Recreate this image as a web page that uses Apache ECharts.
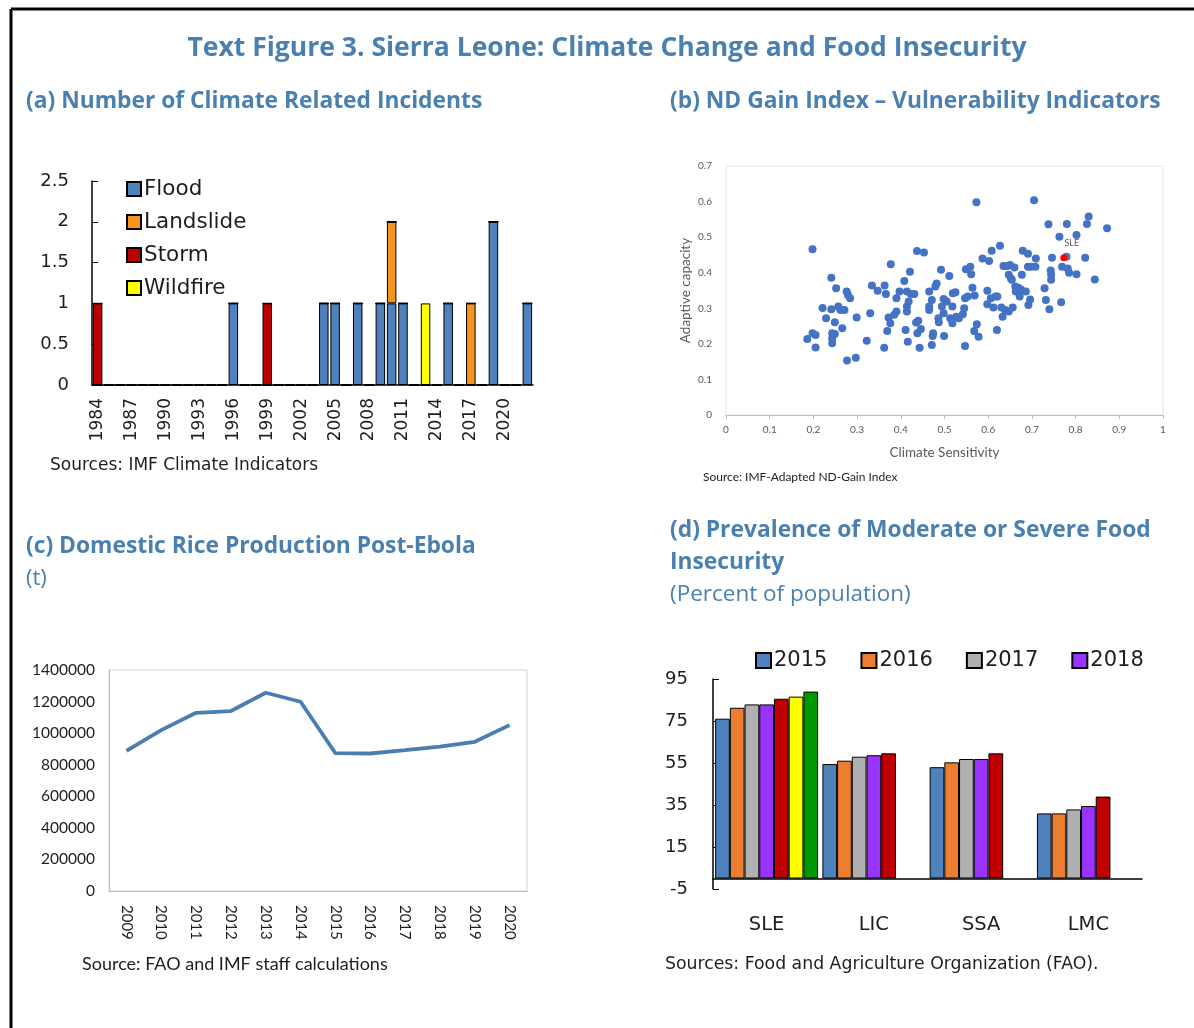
<!DOCTYPE html>
<html>
<head>
<meta charset="utf-8">
<script src="https://cdn.jsdelivr.net/npm/echarts@6/dist/echarts.min.js"></script>
<style>
  html, body { margin: 0; padding: 0; background: #fff; }
  #chart { width: 1194px; height: 1028px; }
</style>
</head>
<body>
<div id="chart"></div>
<script>
// (a) climate related incidents, one entry per year 1984..2022
const incidentYears = [];
for (let y = 1984; y <= 2022; y++) incidentYears.push(String(y));
const floodByYear = { 1996: 1, 2004: 1, 2005: 1, 2007: 1, 2009: 1, 2010: 1, 2011: 1, 2015: 1, 2019: 2, 2022: 1 };
const landslideByYear = { 2010: 1, 2017: 1 };
const stormByYear = { 1984: 1, 1999: 1 };
const wildfireByYear = { 2013: 1 };

// (b) ND-Gain: [climate sensitivity, adaptive capacity]
const ndGainPoints = [
  [0.186,0.214],[0.198,0.466],[0.198,0.230],[0.205,0.225],[0.205,0.190],[0.221,0.301],[0.229,0.272],
  [0.241,0.386],[0.241,0.297],[0.243,0.230],[0.243,0.215],[0.243,0.202],[0.249,0.261],[0.249,0.228],
  [0.252,0.356],[0.257,0.305],[0.262,0.295],[0.266,0.244],[0.271,0.295],[0.276,0.347],[0.279,0.337],
  [0.284,0.328],[0.277,0.153],[0.297,0.161],[0.299,0.274],[0.322,0.209],[0.330,0.286],[0.334,0.364],
  [0.347,0.349],[0.362,0.189],[0.363,0.364],[0.366,0.340],[0.369,0.236],[0.372,0.274],[0.376,0.258],
  [0.377,0.424],[0.385,0.282],[0.390,0.291],[0.390,0.328],[0.397,0.347],[0.408,0.377],[0.411,0.239],
  [0.414,0.305],[0.414,0.291],[0.416,0.206],[0.418,0.319],[0.414,0.347],[0.421,0.403],[0.423,0.340],
  [0.431,0.340],[0.435,0.260],[0.437,0.461],[0.438,0.230],[0.440,0.265],[0.443,0.189],[0.446,0.242],
  [0.453,0.457],[0.465,0.347],[0.465,0.305],[0.465,0.295],[0.471,0.197],[0.473,0.222],[0.474,0.230],
  [0.471,0.323],[0.479,0.361],[0.482,0.370],[0.486,0.272],[0.487,0.261],[0.492,0.408],[0.494,0.305],
  [0.498,0.326],[0.498,0.286],[0.499,0.222],[0.505,0.319],[0.511,0.391],[0.513,0.272],[0.518,0.258],
  [0.518,0.305],[0.519,0.342],[0.525,0.345],[0.527,0.276],[0.533,0.272],[0.542,0.283],[0.545,0.300],
  [0.547,0.194],[0.547,0.328],[0.549,0.410],[0.553,0.333],[0.559,0.417],[0.561,0.396],[0.564,0.358],
  [0.568,0.236],[0.569,0.336],[0.573,0.598],[0.574,0.255],[0.578,0.220],[0.587,0.440],[0.598,0.311],
  [0.598,0.349],[0.602,0.433],[0.606,0.328],[0.608,0.462],[0.612,0.302],[0.617,0.333],[0.620,0.239],
  [0.621,0.333],[0.627,0.476],[0.630,0.302],[0.633,0.276],[0.635,0.419],[0.639,0.295],[0.644,0.419],
  [0.647,0.291],[0.647,0.394],[0.650,0.422],[0.652,0.384],[0.654,0.380],[0.656,0.302],[0.660,0.415],
  [0.662,0.361],[0.663,0.347],[0.669,0.358],[0.672,0.333],[0.675,0.353],[0.677,0.394],[0.679,0.462],
  [0.686,0.347],[0.692,0.309],[0.691,0.453],[0.691,0.417],[0.696,0.325],[0.698,0.417],[0.705,0.604],
  [0.708,0.417],[0.709,0.440],[0.729,0.356],[0.732,0.323],[0.738,0.536],[0.740,0.297],[0.743,0.406],
  [0.744,0.380],[0.744,0.394],[0.746,0.442],[0.763,0.501],[0.767,0.317],[0.769,0.417],[0.779,0.445],
  [0.780,0.537],[0.782,0.412],[0.785,0.400],[0.802,0.506],[0.802,0.396],[0.822,0.442],[0.826,0.537],
  [0.830,0.558],[0.844,0.381],[0.872,0.525]
];
const slePoint = [0.773, 0.442];

// (c) domestic rice production (t)
const riceYears = ['2009','2010','2011','2012','2013','2014','2015','2016','2017','2018','2019','2020'];
const riceTonnes = [888000, 1019000, 1129000, 1140000, 1256000, 1199000, 873000, 871000, 892000, 914000, 945000, 1051000];

// (d) food insecurity, percent of population
const fiGroups = ['SLE', 'LIC', 'SSA', 'LMC'];
const fiYears = ['2015', '2016', '2017', '2018', '2019', '2020', '2021'];
const fi2015 = [76.1, 54.5, 53.0, 31.0];
const fi2016 = [81.3, 56.1, 55.3, 31.0];
const fi2017 = [82.9, 58.0, 56.9, 32.9];
const fi2018 = [82.9, 58.7, 56.9, 34.5];
const fi2019 = [85.6, 59.6, 59.6, 39.0];
const fi2020 = [86.6, null, null, null];
const fi2021 = [89.0, null, null, null];

const BLUE = '#4a80b0';
const TXT = '#1e1e1e';
const WIDE = 'DejaVu Sans';

function perYear(map) {
  return incidentYears.map(y => (map[y] ? map[y] : 0));
}

const chart = echarts.init(document.getElementById('chart'));

const incidentSeries = [
  ['Flood', floodByYear, '#4f81bd'],
  ['Landslide', landslideByYear, '#f7941d'],
  ['Storm', stormByYear, '#c00000'],
  ['Wildfire', wildfireByYear, '#ffff00']
].map(([name, map, color]) => ({
  name: name,
  type: 'bar',
  stack: 'incidents',
  xAxisIndex: 0,
  yAxisIndex: 0,
  barWidth: 9.5,
  data: perYear(map),
  itemStyle: { color: color, borderColor: '#000', borderWidth: 1 }
}));

const fiColors = ['#4f81bd', '#ed7d31', '#b0b0b0', '#9933ff', '#c00000', '#ffff00', '#009900'];
const fiData = [fi2015, fi2016, fi2017, fi2018, fi2019, fi2020, fi2021];
const fiSeries = fiYears.map((yr, i) => ({
  name: yr,
  type: 'bar',
  xAxisIndex: 3,
  yAxisIndex: 3,
  barGap: '0%',
  barCategoryGap: '4%',
  data: fiData[i],
  itemStyle: { color: fiColors[i], borderColor: '#000', borderWidth: 1 }
}));

function txt(text, x, y, font, fill, align) {
  return {
    type: 'text',
    style: { text: text, x: x, y: y, font: font, fill: fill || TXT, textAlign: align || 'left', textVerticalAlign: 'middle' }
  };
}

chart.setOption({
  backgroundColor: '#fff',
  animation: false,
  graphic: [
    { type: 'line', shape: { x1: 11, y1: 9, x2: 1194, y2: 9 }, style: { stroke: '#000', lineWidth: 3 } },
    { type: 'line', shape: { x1: 11, y1: 9, x2: 11, y2: 1028 }, style: { stroke: '#000', lineWidth: 3 } },
    txt('Text Figure 3. Sierra Leone: Climate Change and Food Insecurity', 607, 48, 'bold 26.5px "Open Sans"', BLUE, 'center'),
    txt('(a) Number of Climate Related Incidents', 26, 102, 'bold 22.8px "Open Sans"', BLUE),
    txt('(b) ND Gain Index \u2013 Vulnerability Indicators', 670, 102, 'bold 22.8px "Open Sans"', BLUE),
    txt('(c) Domestic Rice Production Post-Ebola', 26, 547, 'bold 22.8px "Open Sans"', BLUE),
    txt('(t)', 26, 579, '22px "Open Sans"', BLUE),
    txt('(d) Prevalence of Moderate or Severe Food', 670, 531, 'bold 22.8px "Open Sans"', BLUE),
    txt('Insecurity', 670, 563, 'bold 22.8px "Open Sans"', BLUE),
    txt('(Percent of population)', 670, 595, '22.5px "Open Sans"', BLUE),
    txt('Sources: IMF Climate Indicators', 50, 466, '17px "DejaVu Sans"'),
    txt('Source: IMF-Adapted ND-Gain Index', 703, 477, '12px "Lato"'),
    txt('Source: FAO and IMF staff calculations', 82, 964, '18px "Lato"'),
    txt('Sources: Food and Agriculture Organization (FAO).', 665, 965, '17.3px "DejaVu Sans"')
  ],
  legend: [
    {
      data: ['Flood', 'Landslide', 'Storm', 'Wildfire'],
      orient: 'vertical',
      left: 121,
      top: 173,
      itemWidth: 14,
      itemHeight: 14,
      itemGap: 11,
      textStyle: { fontSize: 21.5, color: TXT, fontFamily: WIDE, padding: [0, 0, 0, -2] },
      icon: 'rect'
    },
    {
      data: ['2015', '2016', '2017', '2018'],
      orient: 'horizontal',
      left: 750,
      top: 645,
      itemWidth: 15,
      itemHeight: 15,
      itemGap: 33,
      textStyle: { fontSize: 21, color: TXT, fontFamily: WIDE, padding: [0, 0, 0, -2] },
      icon: 'rect'
    }
  ],
  grid: [
    { left: 92, top: 181, width: 441, height: 204 },
    { left: 726, top: 166, width: 437, height: 249, show: true, borderColor: '#e2e2e2', borderWidth: 1 },
    { left: 109, top: 670, width: 418, height: 221, show: true, borderColor: '#d4d4d4', borderWidth: 1 },
    { left: 713, top: 679, width: 429, height: 210 }
  ],
  xAxis: [
    {
      gridIndex: 0,
      type: 'category',
      data: incidentYears,
      axisLine: { lineStyle: { color: '#000', width: 1.5 } },
      axisTick: { inside: true, length: 6, alignWithLabel: true, interval: 0, lineStyle: { color: '#000' } },
      axisLabel: { interval: 2, rotate: 90, fontSize: 17, color: TXT, fontFamily: WIDE, margin: 13 }
    },
    {
      gridIndex: 1,
      type: 'value',
      min: 0, max: 1, interval: 0.1,
      name: 'Climate Sensitivity',
      nameLocation: 'middle',
      nameGap: 31,
      nameTextStyle: { fontSize: 13.5, color: '#595959', fontFamily: 'Lato' },
      splitLine: { show: false },
      axisLine: { lineStyle: { color: '#bfbfbf' } },
      axisTick: { show: true, length: 4, lineStyle: { color: '#bfbfbf' } },
      axisLabel: { fontSize: 10, color: '#595959', fontFamily: 'Lato', margin: 10 }
    },
    {
      gridIndex: 2,
      type: 'category',
      data: riceYears,
      axisLine: { lineStyle: { color: '#bfbfbf' } },
      axisTick: { inside: true, length: 5, lineStyle: { color: '#bfbfbf' } },
      axisLabel: { rotate: -90, fontSize: 15, color: TXT, fontFamily: 'Lato', margin: 14 }
    },
    {
      gridIndex: 3,
      type: 'category',
      data: fiGroups,
      axisLine: { onZero: true, lineStyle: { color: '#000', width: 1.5 } },
      axisTick: { show: false },
      axisLabel: { fontSize: 19.5, color: TXT, fontFamily: WIDE, margin: 26 }
    }
  ],
  yAxis: [
    {
      gridIndex: 0,
      type: 'value',
      min: 0, max: 2.5, interval: 0.5,
      splitLine: { show: false },
      axisLine: { show: true, lineStyle: { color: '#000', width: 1.5 } },
      axisTick: { show: true, inside: true, length: 6, lineStyle: { color: '#000' } },
      axisLabel: { fontSize: 18, color: TXT, fontFamily: WIDE, margin: 23 }
    },
    {
      gridIndex: 1,
      type: 'value',
      min: 0, max: 0.7, interval: 0.1,
      name: 'Adaptive capacity',
      nameLocation: 'middle',
      nameGap: 33,
      nameTextStyle: { fontSize: 13.5, color: '#595959', fontFamily: 'Lato' },
      splitLine: { show: false },
      axisLine: { show: false },
      axisTick: { show: false },
      axisLabel: { fontSize: 10, color: '#595959', fontFamily: 'Lato', margin: 14 }
    },
    {
      gridIndex: 2,
      type: 'value',
      min: 0, max: 1400000, interval: 200000,
      splitLine: { show: false },
      axisLine: { show: true, lineStyle: { color: '#bfbfbf' } },
      axisTick: { show: false },
      axisLabel: { fontSize: 15.5, color: TXT, fontFamily: 'Lato', margin: 14, formatter: v => String(v) }
    },
    {
      gridIndex: 3,
      type: 'value',
      min: -5, max: 95, interval: 20,
      splitLine: { show: false },
      axisLine: { show: true, lineStyle: { color: '#000', width: 1.5 } },
      axisTick: { show: true, inside: true, length: 6, lineStyle: { color: '#000' } },
      axisLabel: { fontSize: 18, color: TXT, fontFamily: WIDE, margin: 25 }
    }
  ],
  series: [
    ...incidentSeries,
    {
      name: 'ND-Gain',
      type: 'scatter',
      xAxisIndex: 1,
      yAxisIndex: 1,
      symbolSize: 8,
      data: ndGainPoints,
      itemStyle: { color: '#4472c4', opacity: 1 }
    },
    {
      name: 'SLE',
      type: 'scatter',
      xAxisIndex: 1,
      yAxisIndex: 1,
      symbolSize: 7,
      data: [slePoint],
      itemStyle: { color: '#ff0000', opacity: 1 },
      label: { show: true, position: 'top', formatter: 'SLE', fontSize: 9, color: '#595959', fontFamily: 'Lato', offset: [8, -2] }
    },
    {
      name: 'Rice',
      type: 'line',
      xAxisIndex: 2,
      yAxisIndex: 2,
      data: riceTonnes,
      symbol: 'none',
      lineStyle: { color: '#4a7eb3', width: 3.8 }
    },
    ...fiSeries
  ]
});
</script>
</body>
</html>
